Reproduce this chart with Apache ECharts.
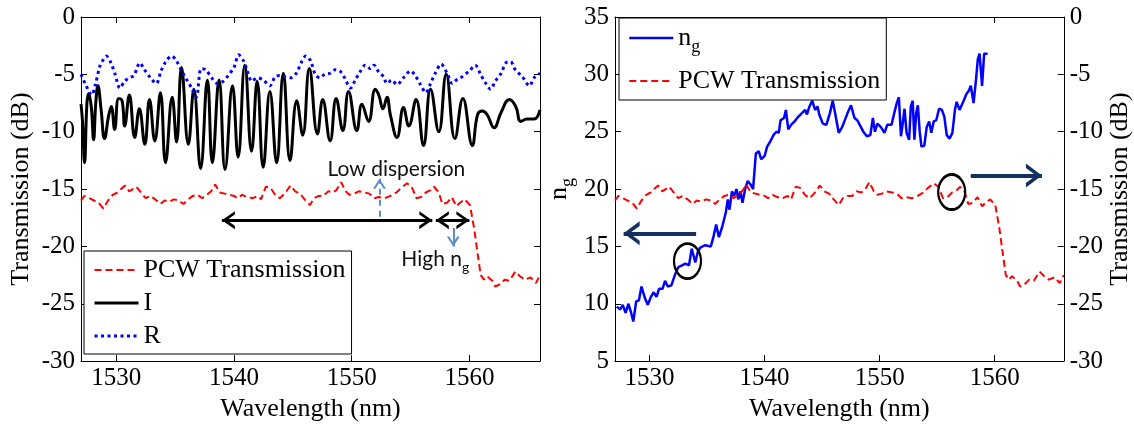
<!DOCTYPE html>
<html>
<head>
<meta charset="utf-8">
<script src="https://cdn.jsdelivr.net/npm/echarts@6/dist/echarts.min.js"></script>
<style>
  html, body { margin: 0; padding: 0; background: #fff; }
  #chart { width: 1134px; height: 427px; }
</style>
</head>
<body>
<div id="chart"></div>
<script>
// Wavelength axis (nm) and tick labels
const wavelengthRange = [1527, 1566];
const wavelengthTicks = [1530, 1540, 1550, 1560];
const dbRange = [-30, 0];
const ngRange = [5, 35];

// PCW transmission (dB) vs wavelength (nm)
const pcwTransmission = [
  [1527.0,-16.0],[1527.3,-15.6],[1527.7,-15.8],[1528.1,-16.0],[1528.5,-16.2],[1528.9,-16.7],
  [1529.3,-16.0],[1529.7,-15.5],[1530.1,-15.3],[1530.4,-15.0],[1530.75,-14.7],[1531.1,-15.2],
  [1531.4,-15.0],[1531.7,-14.8],[1532.1,-15.3],[1532.5,-15.8],[1532.9,-15.6],[1533.3,-15.9],
  [1533.75,-16.3],[1534.1,-16.0],[1534.5,-16.1],[1534.9,-15.9],[1535.3,-16.0],[1535.7,-16.3],
  [1536.1,-15.9],[1536.5,-15.6],[1536.9,-15.5],[1537.3,-15.8],[1537.7,-15.5],[1538.05,-15.2],
  [1538.4,-14.6],[1538.8,-15.3],[1539.2,-15.4],[1539.6,-15.5],[1540.0,-15.6],[1540.3,-15.8],
  [1540.7,-15.5],[1541.1,-15.7],[1541.6,-15.8],[1542.0,-15.6],[1542.3,-15.9],[1542.7,-14.8],
  [1543.1,-14.9],[1543.5,-15.5],[1543.9,-15.8],[1544.3,-15.4],[1544.8,-14.7],[1545.2,-15.2],
  [1545.6,-15.4],[1546.0,-15.9],[1546.45,-16.4],[1546.8,-15.8],[1547.2,-15.6],[1547.6,-15.6],
  [1548.0,-15.2],[1548.4,-15.3],[1548.7,-15.1],[1549.1,-14.4],[1549.5,-15.2],[1549.8,-15.5],
  [1550.2,-15.4],[1550.6,-15.2],[1551.1,-15.3],[1551.5,-15.4],[1551.9,-15.8],[1552.3,-15.7],
  [1552.8,-15.8],[1553.3,-15.6],[1553.8,-15.3],[1554.2,-14.9],[1554.7,-14.5],[1555.1,-14.8],
  [1555.5,-15.8],[1555.9,-15.7],[1556.3,-15.3],[1556.7,-15.1],[1557.0,-14.8],[1557.4,-15.3],
  [1557.7,-16.3],[1558.1,-16.2],[1558.5,-15.7],[1558.9,-16.5],[1559.2,-16.2],[1559.6,-15.9],
  [1560.05,-16.4],[1560.4,-18.4],[1560.67,-20.4],[1560.96,-22.5],[1561.24,-22.9],[1561.5,-22.6],
  [1561.95,-23.0],[1562.2,-23.5],[1562.6,-23.3],[1563.0,-22.9],[1563.4,-23.0],[1563.9,-22.2],
  [1564.3,-22.6],[1564.7,-22.9],[1565.2,-22.7],[1565.65,-23.2],[1566.0,-22.5]
];

// Output port I (dB)
const portI = [
  [1527.0,-7.6],[1527.12,-9.0],[1527.3,-12.7],[1527.5,-7.6],[1527.64,-6.7],[1527.87,-7.8],
  [1528.07,-10.7],[1528.25,-7.6],[1528.44,-6.0],[1528.7,-8.0],[1529.0,-10.6],[1529.35,-8.6],
  [1529.57,-7.8],[1529.86,-9.8],[1530.2,-7.1],[1530.49,-7.3],[1530.71,-9.5],[1531.11,-6.8],
  [1531.56,-10.5],[1531.96,-8.0],[1532.42,-11.1],[1532.82,-7.2],[1533.27,-10.8],[1533.75,-6.6],
  [1534.18,-12.7],[1534.75,-7.0],[1535.12,-10.9],[1535.54,-4.4],[1536.12,-11.1],[1536.59,-6.3],
  [1537.16,-13.2],[1537.74,-5.5],[1538.16,-12.7],[1538.73,-5.5],[1539.24,-13.3],[1539.87,-6.0],
  [1540.35,-12.2],[1540.92,-4.2],[1541.49,-11.7],[1541.97,-5.6],[1542.48,-13.1],[1543.05,-6.5],
  [1543.62,-12.7],[1544.19,-4.9],[1544.76,-12.5],[1545.33,-7.3],[1545.84,-10.3],[1546.4,-4.5],
  [1547.09,-10.2],[1547.54,-7.2],[1548.17,-10.8],[1548.68,-7.1],[1549.25,-9.9],[1549.73,-6.5],
  [1550.44,-9.9],[1550.87,-7.6],[1551.44,-9.1],[1552.0,-6.3],[1552.3,-6.8],[1552.66,-8.0],
  [1553.0,-7.0],[1553.3,-8.6],[1553.85,-10.5],[1554.4,-7.9],[1554.85,-9.5],[1555.47,-7.2],
  [1556.1,-11.2],[1556.7,-6.3],[1557.4,-10.0],[1558.03,-5.0],[1558.77,-10.6],[1559.45,-7.1],
  [1560.25,-11.2],[1560.7,-8.5],[1561.1,-8.2],[1561.5,-8.5],[1562.1,-9.65],[1562.7,-8.3],
  [1563.4,-7.2],[1563.94,-7.8],[1564.37,-9.1],[1564.9,-8.9],[1565.5,-8.9],[1566.0,-8.1]
];

// Output port R (dB)
const portR = [
  [1527.0,-5.0],[1527.4,-5.9],[1527.9,-6.8],[1528.2,-6.0],[1528.6,-4.3],[1528.9,-3.7],
  [1529.15,-3.4],[1529.5,-3.9],[1529.9,-5.0],[1530.3,-6.2],[1530.7,-5.6],[1531.1,-5.3],
  [1531.5,-5.1],[1532.0,-4.0],[1532.4,-4.6],[1532.9,-5.3],[1533.4,-5.8],[1533.8,-4.7],
  [1534.2,-3.9],[1534.7,-3.4],[1535.1,-3.8],[1535.5,-4.6],[1536.0,-5.5],[1536.4,-6.2],
  [1536.8,-7.0],[1537.2,-4.5],[1537.6,-4.6],[1538.1,-5.3],[1538.6,-5.8],[1539.1,-5.6],
  [1539.5,-5.1],[1540.0,-4.4],[1540.4,-3.3],[1540.8,-3.8],[1541.2,-4.9],[1541.5,-5.6],
  [1542.0,-5.3],[1542.5,-5.5],[1543.05,-6.0],[1543.5,-5.2],[1543.9,-5.1],[1544.3,-5.2],
  [1544.8,-5.3],[1545.3,-4.9],[1545.7,-4.0],[1546.1,-3.4],[1546.5,-3.8],[1546.9,-5.0],
  [1547.3,-5.3],[1547.7,-5.0],[1548.2,-4.9],[1548.6,-4.6],[1549.0,-4.7],[1549.4,-5.3],
  [1549.9,-6.2],[1550.3,-5.5],[1550.7,-4.8],[1551.15,-4.2],[1551.6,-4.5],[1551.9,-4.2],
  [1552.3,-4.8],[1552.7,-5.2],[1553.0,-5.8],[1553.4,-5.5],[1553.85,-5.9],[1554.4,-5.3],
  [1555.0,-4.7],[1555.4,-5.1],[1555.85,-5.9],[1556.3,-6.6],[1556.7,-5.8],[1557.1,-4.9],
  [1557.6,-4.1],[1558.1,-4.9],[1558.55,-5.8],[1559.0,-5.4],[1559.4,-5.2],[1560.0,-4.7],
  [1560.5,-4.2],[1560.95,-5.0],[1561.4,-5.8],[1561.8,-6.3],[1562.2,-5.6],[1562.7,-4.9],
  [1563.1,-4.0],[1563.5,-3.9],[1563.9,-4.6],[1564.5,-5.2],[1565.1,-6.0],[1565.5,-5.3],
  [1566.0,-4.9]
];

// Group index n_g vs wavelength (nm)
const groupIndex = [
  [1527.15,9.75],[1527.46,9.5],[1527.67,9.9],[1527.92,9.2],[1528.16,10.0],[1528.38,9.3],
  [1528.59,8.45],[1528.84,10.2],[1529.08,10.3],[1529.30,11.5],[1529.60,10.5],[1529.85,9.9],
  [1530.12,10.6],[1530.37,11.0],[1530.61,10.6],[1530.83,11.3],[1531.13,11.3],[1531.35,12.0],
  [1531.59,11.5],[1531.90,11.6],[1532.20,12.5],[1532.51,13.2],[1532.82,13.35],[1533.12,13.5],
  [1533.43,13.35],[1533.67,14.8],[1533.98,13.6],[1534.19,14.5],[1534.41,14.9],[1534.81,15.1],
  [1535.33,15.0],[1535.57,15.9],[1535.79,16.9],[1536.03,15.8],[1536.34,16.8],[1536.64,18.0],
  [1536.80,19.1],[1536.95,18.2],[1537.16,19.8],[1537.35,19.4],[1537.56,20.0],[1537.71,19.1],
  [1537.90,19.8],[1538.08,18.8],[1538.33,20.1],[1538.54,20.7],[1538.78,20.4],[1539.0,20.0],
  [1539.24,23.1],[1539.49,23.3],[1539.70,22.6],[1540.01,22.9],[1540.22,23.7],[1540.47,24.1],
  [1540.77,24.7],[1541.02,25.0],[1541.23,24.9],[1541.39,26.0],[1541.69,26.2],[1541.85,26.9],
  [1542.06,25.2],[1542.30,25.6],[1542.61,25.9],[1542.92,26.3],[1543.22,26.6],[1543.53,26.9],
  [1543.68,26.5],[1543.90,27.2],[1544.14,27.7],[1544.39,26.9],[1544.60,27.2],[1544.75,26.5],
  [1545.06,25.7],[1545.37,25.6],[1545.67,26.6],[1545.92,27.7],[1546.13,26.6],[1546.44,24.9],
  [1546.74,25.4],[1547.20,26.6],[1547.51,27.3],[1547.81,26.2],[1548.06,26.0],[1548.27,25.6],
  [1548.58,25.0],[1548.89,24.6],[1549.19,24.7],[1549.41,26.2],[1549.59,25.0],[1549.80,25.7],
  [1550.11,25.4],[1550.42,24.9],[1550.66,25.6],[1551.03,25.6],[1551.24,26.5],[1551.49,27.5],
  [1551.67,28.0],[1551.85,24.6],[1552.04,26.0],[1552.16,27.0],[1552.34,24.9],[1552.56,24.3],
  [1552.71,27.2],[1552.87,27.7],[1553.02,24.3],[1553.17,26.6],[1553.32,27.3],[1553.48,25.0],
  [1553.63,23.7],[1553.88,23.8],[1554.09,25.4],[1554.30,25.9],[1554.49,24.9],[1554.70,25.9],
  [1554.92,26.0],[1555.16,27.0],[1555.41,26.9],[1555.62,26.3],[1555.83,24.7],[1556.08,24.4],
  [1556.32,24.9],[1556.54,26.9],[1556.69,27.6],[1556.94,26.9],[1557.30,27.7],[1557.55,28.3],
  [1557.76,28.6],[1557.92,29.0],[1558.16,27.5],[1558.37,29.5],[1558.53,31.3],[1558.68,31.8],
  [1558.90,29.0],[1559.08,31.8],[1559.38,31.8]
];

const SERIF = '"Times New Roman", "Liberation Serif", "DejaVu Serif", serif';
const SANS = 'Lato, "Open Sans", sans-serif';
// Open arrow head, pointing up in its own frame
const CHEVRON = 'path://M0,16 L10,0 L20,16 L16.2,16 L10,5.8 L3.8,16 Z';

function arrowEnd(coord, head) {
  if (!head) return { coord: coord, symbol: 'none' };
  return { coord: coord, symbol: CHEVRON, symbolSize: head, symbolOffset: [0, head[1] / 2] };
}
function arrow(from, to, style, headFrom, headTo) {
  const a = arrowEnd(from, headFrom);
  a.lineStyle = style;
  return [a, arrowEnd(to, headTo)];
}
function textMark(coord, formatter, rich) {
  return {
    coord: coord, symbol: 'rect', symbolSize: 1,
    itemStyle: { color: 'rgba(0,0,0,0)' },
    label: { show: true, position: 'inside', formatter: formatter,
             fontFamily: SANS, fontSize: 21, color: '#111', rich: rich }
  };
}
function ringMark(coord) {
  return {
    coord: coord, symbol: 'circle', symbolSize: [27, 35],
    itemStyle: { color: 'rgba(0,0,0,0)', borderColor: '#000', borderWidth: 2.5 },
    label: { show: false }
  };
}

const tickFont = { fontFamily: SERIF, fontSize: 25, color: '#000' };
const nameFont = { fontFamily: SERIF, fontSize: 26, color: '#000' };
const subRich = {
  n: { fontFamily: SERIF, fontSize: 26, color: '#000', lineHeight: 36, verticalAlign: 'middle' },
  g: { fontFamily: SERIF, fontSize: 18, color: '#000', lineHeight: 16, verticalAlign: 'bottom' }
};

function xAxis(gridIndex, position, withLabels) {
  return {
    type: 'value', gridIndex: gridIndex, position: position,
    min: wavelengthRange[0], max: wavelengthRange[1],
    axisLine: { show: true, onZero: false, lineStyle: { color: '#000', width: 1 } },
    axisTick: { show: true, inside: true, length: 6, customValues: wavelengthTicks, lineStyle: { color: '#000' } },
    axisLabel: Object.assign({
      show: withLabels, margin: 5, customValues: wavelengthTicks,
      formatter: function (v) { return String(v); }
    }, tickFont),
    splitLine: { show: false },
    name: withLabels ? 'Wavelength (nm)' : '',
    nameLocation: 'middle', nameGap: 34, nameTextStyle: nameFont
  };
}
function yAxis(gridIndex, position, range, withLabels, name, nameGap, rich) {
  return {
    type: 'value', gridIndex: gridIndex, position: position,
    min: range[0], max: range[1], interval: 5,
    axisLine: { show: true, onZero: false, lineStyle: { color: '#000', width: 1 } },
    axisTick: { show: true, inside: true, length: 6, lineStyle: { color: '#000' } },
    axisLabel: Object.assign({ show: withLabels, margin: 6,
      formatter: function (v) { return String(v); } }, tickFont),
    splitLine: { show: false },
    name: name || '', nameLocation: 'middle', nameGap: nameGap || 0, nameRotate: 90,
    nameTextStyle: Object.assign({ rich: rich }, nameFont)
  };
}

const legendBase = {
  orient: 'vertical', itemWidth: 44, itemHeight: 12,
  borderColor: '#000', borderWidth: 1, borderRadius: 0, backgroundColor: '#fff',
  selectedMode: false,
  itemStyle: { opacity: 0, color: 'rgba(0,0,0,0)', borderWidth: 0 },
  lineStyle: { width: 'inherit' },
  textStyle: { fontFamily: SERIF, fontSize: 26, color: '#000', rich: subRich }
};

const chart = echarts.init(document.getElementById('chart'), null, { renderer: 'canvas' });
chart.setOption({
  animation: false,
  backgroundColor: '#fff',
  textStyle: { fontFamily: SERIF },
  grid: [
    { left: 81, top: 17, width: 459, height: 347 },
    { left: 615, top: 17, width: 455, height: 347 }
  ],
  xAxis: [
    xAxis(0, 'bottom', true), xAxis(0, 'top', false),
    xAxis(1, 'bottom', true), xAxis(1, 'top', false)
  ],
  yAxis: [
    yAxis(0, 'left', dbRange, true, 'Transmission (dB)', 47),
    yAxis(0, 'right', dbRange, false),
    yAxis(1, 'left', ngRange, true, '{n|n}{g|g}', 38, subRich),
    yAxis(1, 'right', dbRange, true, 'Transmission (dB)', 40)
  ],
  legend: [
    Object.assign({}, legendBase, {
      data: ['PCW Transmission', 'I', 'R'],
      left: 84, top: 251, itemGap: 7, padding: [6, 6, 5, 9]
    }),
    Object.assign({}, legendBase, {
      data: ['ng', 'PCW Transmission'],
      left: 619, top: 18, itemGap: 12, padding: [7, 6, 6, 9],
      formatter: function (name) { return name === 'ng' ? '{n|n}{g|g}' : name; }
    })
  ],
  series: [
    {
      name: 'PCW Transmission', type: 'line', xAxisIndex: 0, yAxisIndex: 0,
      data: pcwTransmission, symbol: 'none',
      lineStyle: { color: '#ff0000', width: 2, type: [7, 4] },
      itemStyle: { color: '#ff0000' },
      markLine: {
        silent: true, symbol: 'none', label: { show: false },
        data: [
          arrow([1538.97, -17.71], [1556.85, -17.71], { color: '#000', width: 3, type: 'solid' }, [18, 13], [18, 13]),
          arrow([1557.15, -17.71], [1560.0, -17.71], { color: '#000', width: 3, type: 'solid' }, [18, 13], [18, 13]),
          arrow([1552.36, -17.42], [1552.36, -14.1], { color: '#5b8dc8', width: 2, type: [6, 5] }, null, [13, 10]),
          arrow([1558.63, -18.4], [1558.63, -20.0], { color: '#5b8dc8', width: 2, type: 'solid' }, null, [13, 10])
        ]
      },
      markPoint: {
        silent: true,
        data: [
          textMark([1553.8, -13.25], 'Low dispersion'),
          textMark([1557.1, -21.1], '{a|High n}{b|g}', {
            a: { fontFamily: SANS, fontSize: 21, color: '#111', lineHeight: 30, verticalAlign: 'middle' },
            b: { fontFamily: SANS, fontSize: 14, color: '#111', lineHeight: 14, verticalAlign: 'bottom' }
          })
        ]
      }
    },
    {
      name: 'I', type: 'line', xAxisIndex: 0, yAxisIndex: 0,
      data: portI, symbol: 'none', smooth: 0.45,
      lineStyle: { color: '#000', width: 3 }, itemStyle: { color: '#000' }
    },
    {
      name: 'R', type: 'line', xAxisIndex: 0, yAxisIndex: 0,
      data: portR, symbol: 'none', smooth: 0.3,
      lineStyle: { color: '#0000ff', width: 3, type: [3, 3.5] }, itemStyle: { color: '#0000ff' }
    },
    {
      name: 'ng', type: 'line', xAxisIndex: 2, yAxisIndex: 2,
      data: groupIndex, symbol: 'none',
      lineStyle: { color: '#0000ff', width: 2.5 }, itemStyle: { color: '#0000ff' },
      markLine: {
        silent: true, symbol: 'none', label: { show: false },
        data: [
          arrow([1534.05, 16.14], [1527.75, 16.14], { color: '#13305e', width: 4, type: 'solid' }, null, [24, 16])
        ]
      },
      markPoint: { silent: true, data: [ringMark([1533.3, 13.72])] }
    },
    {
      name: 'PCW Transmission', type: 'line', xAxisIndex: 2, yAxisIndex: 3,
      data: pcwTransmission, symbol: 'none',
      lineStyle: { color: '#ff0000', width: 2, type: [7, 4] }, itemStyle: { color: '#ff0000' },
      markLine: {
        silent: true, symbol: 'none', label: { show: false },
        data: [
          arrow([1557.92, -13.82], [1564.1, -13.82], { color: '#13305e', width: 4, type: 'solid' }, null, [24, 16])
        ]
      },
      markPoint: { silent: true, data: [ringMark([1556.26, -15.26])] }
    }
  ]
});
</script>
</body>
</html>
